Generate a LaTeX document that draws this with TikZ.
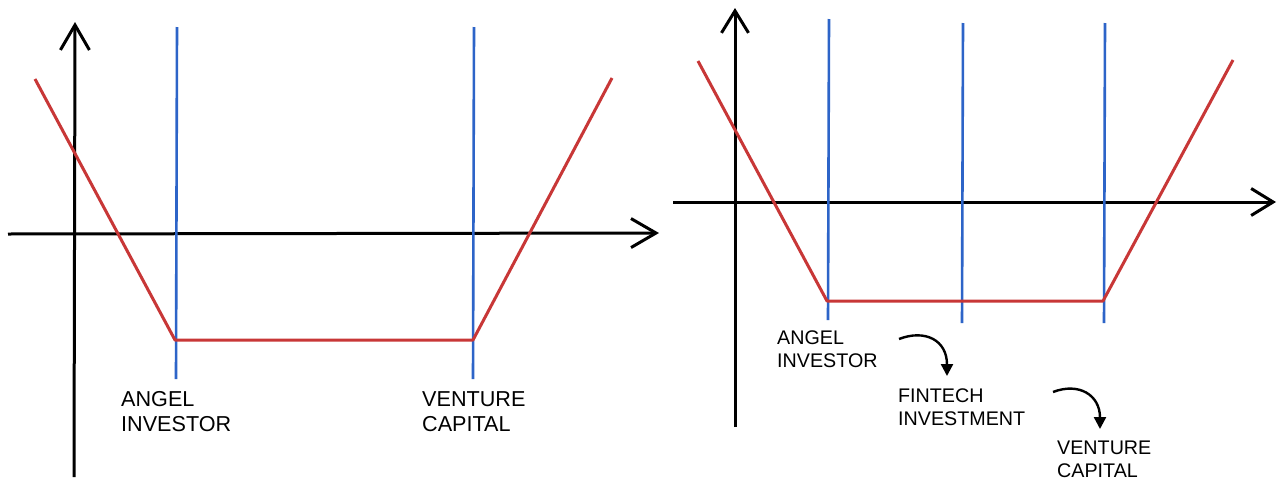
\documentclass[tikz,border=0pt]{standalone}
\usepackage{fontspec}
\setmainfont{Liberation Sans}
\usetikzlibrary{arrows.meta}
\definecolor{curvered}{RGB}{200,55,55}
\definecolor{lineblue}{RGB}{45,100,200}
\tikzset{
  axis/.style={line width=3pt, black},
  bigaxis/.style={axis, -{Straight Barb[length=25pt,width=29pt,line width=3pt]}},
  smallaxis/.style={axis, -{Straight Barb[length=22pt,width=27pt,line width=3pt]}},
  stage/.style={line width=2.6pt, lineblue},
  payoff/.style={line width=3pt, curvered, line join=round},
  biglabel/.style={anchor=north west, inner sep=0pt, align=left, font=\fontsize{21.6}{25}\selectfont},
  smalllabel/.style={anchor=north west, inner sep=0pt, align=left, font=\fontsize{19.7}{23}\selectfont},
  flow/.style={line width=2.4pt, black, -{Triangle[length=12pt,width=12pt]}}
}
\begin{document}
\begin{tikzpicture}[x=1pt,y=-1pt]
\useasboundingbox (0,0) rectangle (1277,477);
\clip (0,0) rectangle (1277,477);
\fill[white] (0,0) rectangle (1277,477);
% ---------- left panel ----------
\coordinate (Lyb) at (74,477);
\coordinate (Lyt) at (75,22);
\coordinate (Lxl) at (8,234);
\coordinate (Lxr) at (659,233);
\draw[bigaxis] (Lyb) -- (Lyt);
\draw[bigaxis] (Lxl) -- (Lxr);
\coordinate (Lb1t) at (177,27);
\coordinate (Lb1b) at (176,379);
\coordinate (Lb2t) at (474,27);
\coordinate (Lb2b) at (473,379);
\draw[stage] (Lb1t) -- (Lb1b);
\draw[stage] (Lb2t) -- (Lb2b);
\coordinate (Lr0) at (35,79);
\coordinate (Lr1) at (175,340);
\coordinate (Lr2) at (473,340);
\coordinate (Lr3) at (612,78);
\draw[payoff] (Lr0) -- (Lr1) -- (Lr2) -- (Lr3);
\node[biglabel] (Langel) at (121,391) {ANGEL\\INVESTOR};
\node[biglabel] (Lventure) at (422,391) {VENTURE\\CAPITAL};
% ---------- right panel ----------
\coordinate (Ryb) at (735,427);
\coordinate (Ryt) at (735,8);
\coordinate (Rxl) at (673,202);
\coordinate (Rxr) at (1276,202);
\draw[smallaxis] (Ryb) -- (Ryt);
\draw[smallaxis] (Rxl) -- (Rxr);
\coordinate (Rb1t) at (829,19);
\coordinate (Rb1b) at (828,320);
\coordinate (Rb2t) at (963,23);
\coordinate (Rb2b) at (962,323);
\coordinate (Rb3t) at (1105,23);
\coordinate (Rb3b) at (1104,323);
\draw[stage] (Rb1t) -- (Rb1b);
\draw[stage] (Rb2t) -- (Rb2b);
\draw[stage] (Rb3t) -- (Rb3b);
\coordinate (Rr0) at (698,61);
\coordinate (Rr1) at (827,301);
\coordinate (Rr2) at (1103,301);
\coordinate (Rr3) at (1233,60);
\draw[payoff] (Rr0) -- (Rr1) -- (Rr2) -- (Rr3);
\node[smalllabel] (Rangel) at (777,331) {ANGEL\\INVESTOR};
\node[smalllabel] (Rfintech) at (898,389) {FINTECH\\INVESTMENT};
\node[smalllabel] (Rventure) at (1057,441) {VENTURE\\CAPITAL};
\coordinate (F1s) at (899,339);
\coordinate (F1e) at (947,376);
\coordinate (F2s) at (1053,392);
\coordinate (F2e) at (1100,429);
\draw[flow] (F1s) .. controls (925,329) and (947,340) .. (F1e);
\draw[flow] (F2s) .. controls (1079,382) and (1100,395) .. (F2e);
\end{tikzpicture}
\end{document}
